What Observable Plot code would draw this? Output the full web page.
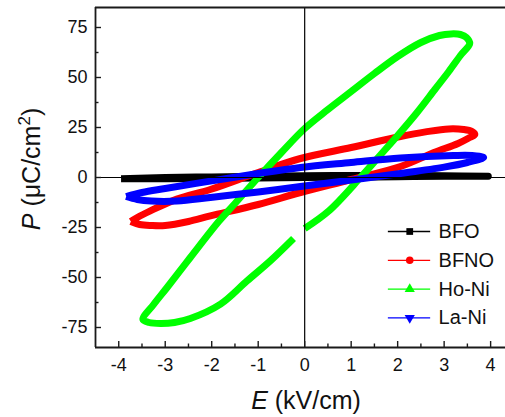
<!DOCTYPE html>
<html><head><meta charset="utf-8">
<script src="https://cdn.jsdelivr.net/npm/d3@7"></script>
<script src="https://cdn.jsdelivr.net/npm/@observablehq/plot@0.6"></script>
<style>body{margin:0;background:#fff}svg{display:block}</style>
</head><body><div id="chart"></div>
<script>
// ---- axes ----
const xDomain = [-4.5, 4.32];
const yDomain = [-85, 85];
const xMajor = [-4, -3, -2, -1, 0, 1, 2, 3, 4];
const xMinor = [-3.5, -2.5, -1.5, -0.5, 0.5, 1.5, 2.5, 3.5];
const yMajor = [-75, -50, -25, 0, 25, 50, 75];
const yMinor = [-62.5, -37.5, -12.5, 12.5, 37.5, 62.5];

// ---- series ----
const seriesNames = ["BFO", "BFNO", "Ho-Ni", "La-Ni"];
const seriesColors = ["#000000", "#ff0000", "#00ff00", "#0000ff"];
const seriesSymbols = ["square", "circle", "triangle", "triangle"];

const bfoE = [-3.95, -3, -2, -1, 0, 1, 2, 3, 3.95, 3, 2, 1, 0, -1, -2, -3, -3.95];
const bfoP = [-0.6, -0.6, -0.5, -0.3, 0, 0.2, 0.4, 0.6, 0.6, 0.9, 1.0, 1.0, 0.9, 0.6, 0.3, 0, -0.6];

const bfnoE = [-3.74, -3.55, -3.3, -3.0, -2.5, -2.03, -1.0, -0.09, 1.0, 2.06, 2.78, 3.3, 3.55, 3.66,
               3.6, 3.42, 3.1, 2.6, 2.06, 1.0, -0.09, -1.0, -2.03, -2.75, -3.32, -3.6, -3.74];
const bfnoP = [-22, -23.5, -24, -24, -22, -19.2, -13.5, -7.5, -1, 5.5, 12.5, 17, 20, 21.5,
               23, 24, 24.3, 22.8, 20.5, 15, 9.5, 2.5, -6, -10.8, -16.7, -20, -22];

const hoNiE = [0, 0.52, 1.2, 1.6, 2.0, 2.4, 2.8, 3.1, 3.35, 3.55, 3.48, 3.35, 3.15, 2.9, 2.5, 2.0,
               1.5, 1.0, 0.5, 0, -0.5, -1.0, -1.5, -1.85, -2.46, -2.96, -3.25, -3.48, -3.35, -3.1, -2.8,
               -2.46, -1.81, -1.24, -0.74, -0.24];
const hoNiP = [-25.5, -16.7, 0, 10.5, 21, 32, 44, 53, 61, 67, 70, 71.5, 71.8, 71, 67.5, 60.5,
               52, 43, 34, 24.5, 12.5, 0, -13, -22, -40, -55, -63.5, -71, -72.5, -73, -72.5,
               -70.5, -63.3, -51.7, -41.7, -30.5];

const laNiE = [-3.84, -3.6, -3.3, -2.75, -2.03, -1.0, -0.09, 1.0, 2.06, 3.0, 3.5, 3.85,
               3.6, 3.2, 2.06, 1.0, -0.09, -1.0, -2.03, -3.0, -3.5, -3.84];
const laNiP = [-9.5, -11, -11.8, -11.8, -10, -7.2, -4.5, -1.3, 2, 5.2, 7.5, 10,
               11, 11, 9.8, 7.5, 5, 2, -1.8, -5.5, -7.5, -9.5];

const seriesData = [[bfoE, bfoP], [bfnoE, bfnoP], [hoNiE, hoNiP], [laNiE, laNiP]];
const rows = seriesData.flatMap(([E, P], s) => E.map((e, i) => ({series: seriesNames[s], E: e, P: P[i]})));
const legendRows = seriesNames.map((s, i) => ({series: s, i}));

const W = 505, H = 417;
const legY = i => -27 - i * 14.4;
const axisColor = "#1a1a1a";
const font = "Liberation Sans, Arial, sans-serif";
const fmt = d => String(d);

const plot = Plot.plot({
  width: W, height: H,
  marginLeft: 95, marginRight: 0, marginTop: 7, marginBottom: 70,
  style: {fontFamily: font, background: "#fff", overflow: "hidden"},
  x: {domain: xDomain, label: null},
  y: {domain: yDomain, label: null},
  color: {domain: seriesNames, range: seriesColors},
  symbol: {domain: seriesNames, range: seriesSymbols},
  marks: [
    Plot.line(rows, {x: "E", y: "P", z: "series", stroke: "series", strokeWidth: 7,
      curve: "catmull-rom", strokeLinejoin: "round", strokeLinecap: "butt"}),
    Plot.ruleX([0], {stroke: "#000", strokeWidth: 1.2}),
    Plot.ruleY([0], {stroke: "#000", strokeWidth: 1.2}),
    // frame (right side cropped in reference)
    Plot.ruleX([xDomain[0]], {stroke: axisColor, strokeWidth: 1.8}),
    Plot.ruleY(yDomain, {stroke: axisColor, strokeWidth: 1.8}),
    // ticks
    Plot.axisX(xMajor, {tickSize: -6, strokeWidth: 1.4, stroke: axisColor, tickFormat: () => "", label: null}),
    Plot.axisX(xMinor, {tickSize: -3.5, strokeWidth: 1.4, stroke: axisColor, tickFormat: () => "", label: null}),
    Plot.axisX(xMajor, {tickSize: 0, tickPadding: 11, fontSize: 18, fill: "#111", tickFormat: fmt, label: null}),
    Plot.axisY(yMajor, {tickSize: -6, strokeWidth: 1.4, stroke: axisColor, tickFormat: () => "", label: null}),
    Plot.axisY(yMinor, {tickSize: -3.5, strokeWidth: 1.4, stroke: axisColor, tickFormat: () => "", label: null}),
    Plot.axisY(yMajor, {tickSize: 0, tickPadding: 8, fontSize: 18, fill: "#111", tickFormat: fmt, label: null}),
    // legend
    Plot.ruleY(legendRows, {y: d => legY(d.i), x1: 1.80, x2: 2.71, stroke: "series", strokeWidth: 1.3}),
    Plot.dot(legendRows, {x: 2.26, y: d => legY(d.i), fill: "series", symbol: "series", r: 3.8,
      rotate: d => d.series === "La-Ni" ? 180 : 0}),
    Plot.text(legendRows, {x: 2.88, y: d => legY(d.i), text: "series", textAnchor: "start",
      fontSize: 20, fill: "#111"})
  ]
});

const svg = d3.select(plot);
// axis titles with mixed styles
const xt = svg.append("text").attr("x", 306).attr("y", 409).attr("text-anchor", "middle")
  .attr("font-family", font).attr("font-size", 25).attr("fill", "#111");
xt.append("tspan").attr("font-style", "italic").text("E");
xt.append("tspan").text(" (kV/cm)");

const yt = svg.append("text").attr("transform", "translate(40,169) rotate(-90)").attr("text-anchor", "middle")
  .attr("font-family", font).attr("font-size", 25).attr("fill", "#111");
yt.append("tspan").attr("font-style", "italic").text("P");
yt.append("tspan").text(" (μC/cm");
yt.append("tspan").attr("font-size", 17).attr("dy", -10).text("2");
yt.append("tspan").attr("dy", 10).text(")");

document.getElementById("chart").appendChild(plot);
</script></body></html>
